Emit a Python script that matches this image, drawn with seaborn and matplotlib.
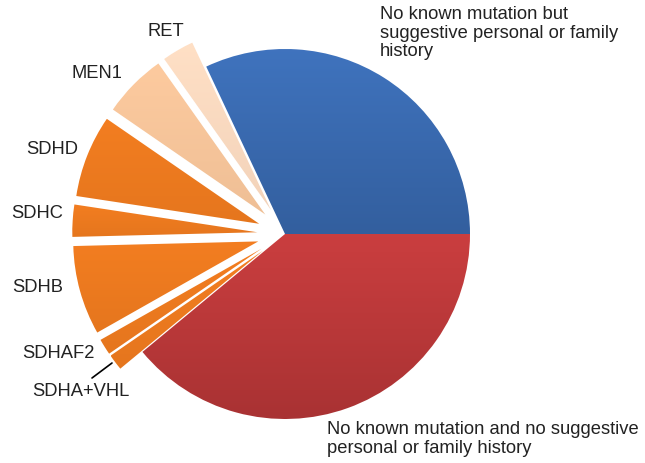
import numpy as np
import seaborn as sns
import matplotlib.pyplot as plt
from matplotlib.colors import to_rgb

# slice shares (percent), counter-clockwise from 3 o'clock
labels = ["No known mutation but\nsuggestive personal or family\nhistory",
          "RET", "MEN1", "SDHD", "SDHC", "SDHB", "SDHAF2", "SDHA+VHL",
          "No known mutation and no suggestive\npersonal or family history"]
shares = [32.0, 2.8, 5.6, 7.2, 2.8, 7.8, 1.4, 1.4, 39.0]
colors = ["#3a6cb4", "#fddcc2", "#f9c79c", "#ef7b1f", "#ef7b1f", "#ef7b1f",
          "#ef7b1f", "#ef7b1f", "#c0393a"]
explode = [0, 1, 1, 1, 1, 1, 1, 1, 0]

sns.set_theme(style="white")
plt.rcParams['font.family'] = ['Liberation Sans', 'DejaVu Sans']

fig = plt.figure(figsize=(6.45, 4.63), dpi=100)
ax = fig.add_axes([0, 0, 1, 1])

H = 463
R = 185
wedges, _ = ax.pie(shares, colors=colors,
                   explode=[e * 0.15 * R for e in explode], startangle=0,
                   counterclock=True, center=(285, H - 234), radius=R,
                   wedgeprops=dict(edgecolor="white", linewidth=1.5))

# soft vertical shading, stronger on the two big wedges
for w, c, e in zip(wedges, colors, explode):
    rgb = np.array(to_rgb(c))
    k = 0.04 if e else 0.12
    top = np.clip(rgb * (1 + k * 0.3) + k * 0.1, 0, 1)
    bot = rgb * (1 - k)
    t = np.linspace(0, 1, 64)[:, None, None]
    grad = top * (1 - t) + bot * t
    bb = w.get_path().get_extents(w.get_transform())
    inv = ax.transData.inverted()
    (x0, y0), (x1, y1) = inv.transform([[bb.x0, bb.y0], [bb.x1, bb.y1]])
    im = ax.imshow(grad, extent=(x0, x1, y0, y1), origin="upper",
                   aspect="auto", zorder=w.get_zorder() + 0.1)
    im.set_clip_path(w)

ax.set_xlim(0, 645)
ax.set_ylim(0, H)
ax.set_aspect("equal")
ax.axis("off")

fs = 13.2
txt = dict(fontsize=fs, color="#222222")
ax.text(380, H - 6, labels[0], ha="left", va="top", linespacing=1.12, **txt)
ax.text(327, H - 421, labels[8], ha="left", va="top", linespacing=1.12, **txt)
ax.text(166, H - 32, labels[1], ha="center", va="center", **txt)
ax.text(97, H - 74, labels[2], ha="center", va="center", **txt)
ax.text(52, H - 149, labels[3], ha="center", va="center", **txt)
ax.text(37, H - 213, labels[4], ha="center", va="center", **txt)
ax.text(38, H - 288, labels[5], ha="center", va="center", **txt)
ax.text(58, H - 353, labels[6], ha="center", va="center", **txt)
ax.text(81, H - 391, labels[7], ha="center", va="center", **txt)
ax.plot([92, 112], [H - 378, H - 363], color="black", lw=1.2)

fig.savefig("out.png", dpi=100)
